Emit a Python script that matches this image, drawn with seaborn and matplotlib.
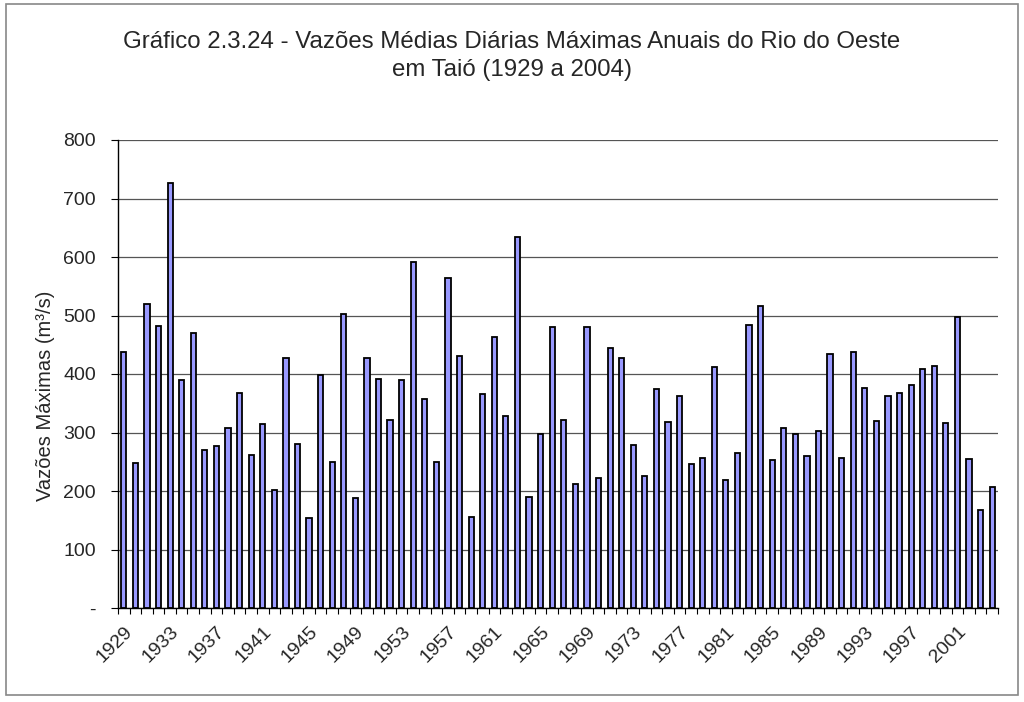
import numpy as np
import pandas as pd
import matplotlib
matplotlib.use("Agg")
import matplotlib.pyplot as plt
import seaborn as sns
from matplotlib.patches import Rectangle
from matplotlib.ticker import FixedLocator

years = list(range(1929, 2005))
vazoes = [437, 248, 519, 482, 726, 389, 470, 270, 277, 308,
          368, 262, 314, 202, 427, 281, 154, 398, 250, 502,
          188, 428, 391, 321, 389, 592, 357, 250, 564, 430,
          156, 365, 464, 328, 634, 190, 298, 480, 322, 212,
          481, 222, 445, 428, 279, 226, 375, 318, 362, 246,
          257, 412, 218, 265, 483, 516, 253, 308, 298, 260,
          302, 434, 257, 437, 376, 319, 363, 368, 382, 408,
          414, 317, 498, 254, 168, 206]
yticks = [0, 100, 200, 300, 400, 500, 600, 700, 800]
ytick_labels = ["-", "100", "200", "300", "400", "500", "600", "700", "800"]
title = "Gráfico 2.3.24 - Vazões Médias Diárias Máximas Anuais do Rio do Oeste\nem Taió (1929 a 2004)"
ylabel = "Vazões Máximas (m³/s)"

df = pd.DataFrame({"ano": [str(y) for y in years], "vazao": vazoes})

sns.set_style("white")
plt.rcParams["font.family"] = ["Liberation Sans", "DejaVu Sans"]

fig = plt.figure(figsize=(10.24, 7.02), dpi=100)
ax = fig.add_axes([118 / 1024, 1 - 608 / 702, (998 - 118) / 1024, (608 - 140) / 702])

sns.barplot(data=df, x="ano", y="vazao", ax=ax, color="#9999FF",
            saturation=1, width=0.45, edgecolor="black", linewidth=1.3)

ax.set_ylim(0, 800)
ax.set_xlim(-0.5, len(years) - 0.5)
ax.set_yticks(yticks)
ax.set_yticklabels(ytick_labels, fontsize=14)
ax.yaxis.grid(True, color="#555555", linewidth=0.9)
ax.set_axisbelow(True)
ax.tick_params(axis="y", length=5, width=0.8, color="black", direction="out", left=True, pad=11)

# x tick labels every 4 years
major_pos = list(range(0, len(years), 4))
ax.set_xticks(major_pos)
ax.set_xticklabels([str(years[i]) for i in major_pos], rotation=45, ha="right",
                   rotation_mode="anchor", fontsize=14)
ax.tick_params(axis="x", which="major", length=0, pad=11)
ax.xaxis.set_minor_locator(FixedLocator(np.arange(-0.5, len(years), 1.0)))
ax.tick_params(axis="x", which="minor", length=4, width=0.8, color="black", direction="out", bottom=True)

for s in ["top", "right"]:
    ax.spines[s].set_visible(False)
for s in ["left", "bottom"]:
    ax.spines[s].set_color("black")
    ax.spines[s].set_linewidth(1.0)

ax.set_xlabel("")
ax.set_ylabel(ylabel, fontsize=14.5)
ax.yaxis.set_label_coords(-0.072, 0.453)

fig.text(512 / 1024, 1 - 56 / 702, title, ha="center", va="center", fontsize=17.3, linespacing=1.4)

border = Rectangle((6 / 1024, 1 - 695 / 702), (1018 - 6) / 1024, (695 - 4) / 702,
                   transform=fig.transFigure, fill=False, edgecolor="#888888", linewidth=1.2)
fig.patches.append(border)

fig.savefig("out.png", dpi=100)
